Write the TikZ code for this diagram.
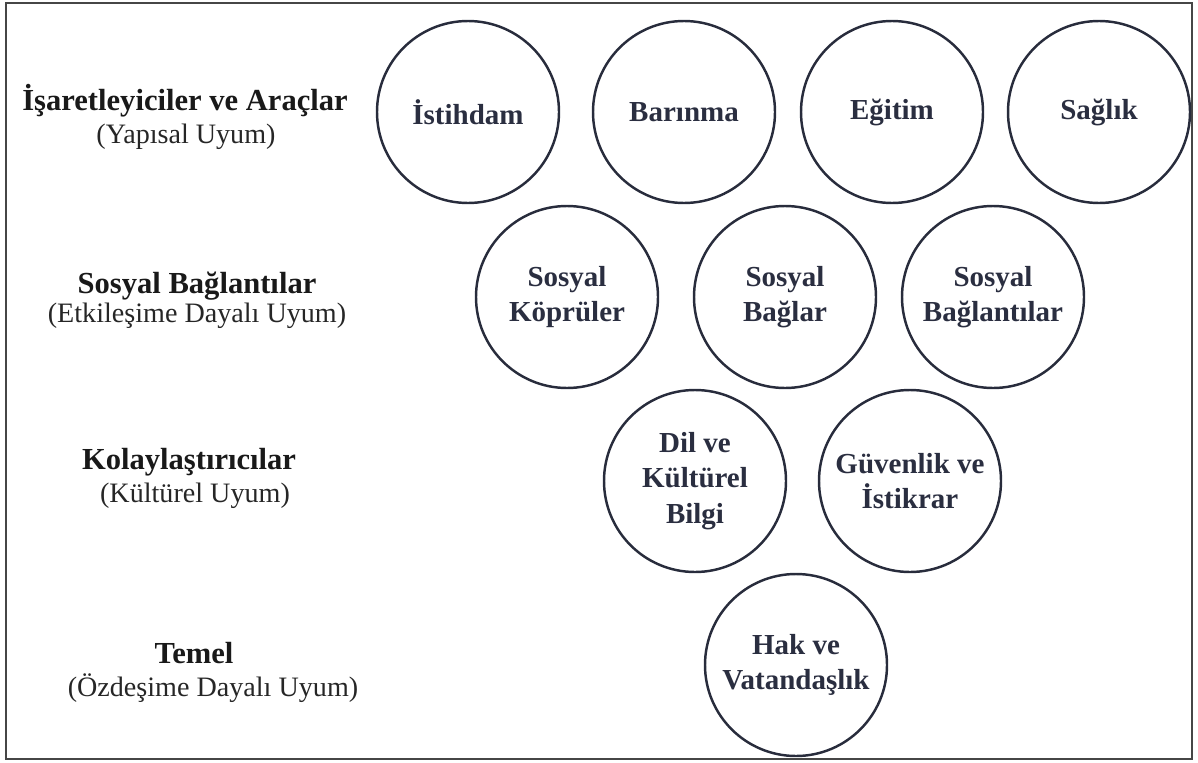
\documentclass[tikz,border=0pt]{standalone}
\usepackage{fontspec}
\setmainfont{Liberation Serif}
\definecolor{ringline}{RGB}{40,44,60}
\definecolor{ringtext}{RGB}{42,46,64}
\definecolor{frameline}{RGB}{70,70,70}

\begin{document}
\begin{tikzpicture}[
    ring/.style={circle, draw=ringline, line width=1.4pt, minimum size=3.64cm, inner sep=0pt,
      align=center, text=ringtext, font=\fontsize{16.5}{20}\selectfont\bfseries},
    levelname/.style={font=\fontsize{17.4}{20}\selectfont\bfseries, text=black!90},
    levelsub/.style={font=\fontsize{16}{19}\selectfont, text=black!85}
  ]
    % page and frame
    \useasboundingbox (0,0) rectangle (23.96,-15.24);
    \draw[frameline, line width=1.1pt] (0.12,-0.06) rectangle (23.84,-15.18);

    % level labels on the left
    \node[levelname] (marker) at (3.70,-2.02) {İşaretleyiciler ve Araçlar};
    \node[levelsub] (markersub) at (3.72,-2.74) {(Yapısal Uyum)};
    \node[levelname] (social) at (3.94,-5.72) {Sosyal Bağlantılar};
    \node[levelsub] (socialsub) at (3.94,-6.32) {(Etkileşime Dayalı Uyum)};
    \node[levelname] (facil) at (3.78,-9.24) {Kolaylaştırıcılar};
    \node[levelsub] (facilsub) at (3.90,-9.92) {(Kültürel Uyum)};
    \node[levelname] (found) at (3.88,-13.06) {Temel};
    \node[levelsub] (foundsub) at (4.26,-13.76) {(Özdeşime Dayalı Uyum)};

    % top row
    \node[ring] (istihdam) at (9.36,-2.24) {İstihdam};
    \node[ring] (barinma) at (13.68,-2.24) {Barınma};
    \node[ring] (egitim) at (17.84,-2.24) {Eğitim};
    \node[ring] (saglik) at (21.98,-2.24) {Sağlık};

    % second row
    \node[ring] (kopru) at (11.34,-5.94) {Sosyal\\Köprüler};
    \node[ring] (bag) at (15.70,-5.94) {Sosyal\\Bağlar};
    \node[ring] (baglanti) at (19.86,-5.94) {Sosyal\\Bağlantılar};

    % third row
    \node[ring] (dil) at (13.90,-9.62) {Dil ve\\Kültürel\\Bilgi};
    \node[ring] (guven) at (18.20,-9.62) {Güvenlik ve\\İstikrar};

    % bottom
    \node[ring] (hak) at (15.92,-13.30) {Hak ve\\Vatandaşlık};
\end{tikzpicture}
\end{document}
